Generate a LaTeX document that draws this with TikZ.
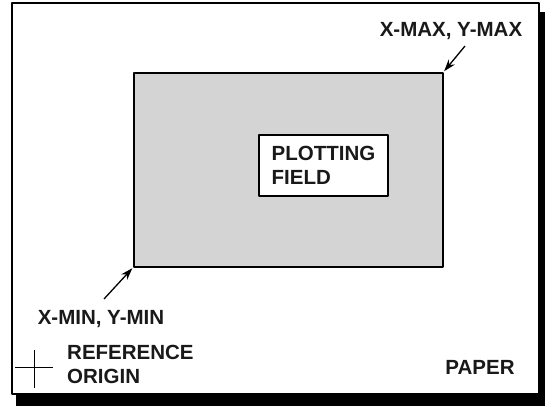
\documentclass[tikz,border=0pt]{standalone}
\usepackage{fontspec}
\setmainfont{Liberation Sans}
\usetikzlibrary{arrows.meta}
\begin{document}
\begin{tikzpicture}[x=1pt, y=-1pt, font=\bfseries\fontsize{20.5}{24}\selectfont, line join=round, >={Stealth[length=12pt,width=8pt]},
	lbl/.style={inner sep=0pt, text=black!90}]
	\useasboundingbox (0,0) rectangle (550,408);
	\fill (16,12) rectangle (545,406);
	\draw[line width=1.6pt, fill=white] (12,3) rectangle (539,394);
	\node[draw, line width=1.5pt, fill=black!17, inner sep=0pt, minimum width=309pt, minimum height=194pt, anchor=north west] (field) at (133,72) {};
	\node[draw, line width=1.5pt, fill=white, minimum width=129pt, minimum height=61pt, align=left, text=black!90] (plot) at (323.5,165.5) {PLOTTING\\FIELD};
	\node[lbl] (maxlbl) at (451,31) {X-MAX, Y-MAX};
	\coordinate (maxtail) at (465,46);
	\draw[->, line width=1.3pt, shorten >=1pt] (maxtail) -- (field.north east);
	\node[lbl] (minlbl) at (101,319) {X-MIN, Y-MIN};
	\coordinate (mintail) at (104,299);
	\draw[->, line width=1.3pt, shorten >=1pt] (mintail) -- (field.south west);
	\draw[line width=1pt] (34,350) -- (34,388) (15,367) -- (53,367);
	\node[lbl, anchor=west, align=left] (origin) at (67,364) {REFERENCE\\ORIGIN};
	\node[lbl] (paper) at (480,367) {PAPER};
\end{tikzpicture}
\end{document}
